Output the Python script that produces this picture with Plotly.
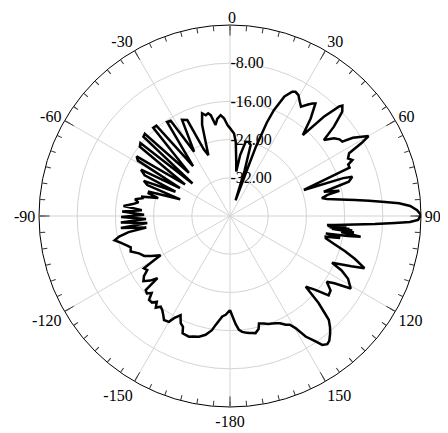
import plotly.graph_objects as go

# Radiation pattern (angle in degrees, gain in dB)
angles = [
    -180, -177.5, -175.6, -172.5, -171, -168.4, -165.6, -163, -161.2, -158, -157, -155.3, -153.5, -152,
    -151.3, -150, -147.6, -146, -144.3, -142.6, -141, -139.5, -138, -136, -134.5, -133, -131.3, -130.6,
    -129, -127, -125, -123.2, -121.3, -120.3, -119.4, -117, -115, -112.3, -109.7, -107.5, -105.5, -103.5,
    -101.9, -100.5, -99, -97.8, -96.3, -94.9, -93.4, -92.0, -90.5, -89.1, -87.6, -86.2, -84.6,
    -83, -81.5, -80, -78.5, -77.6, -76, -74.5, -73.3, -71.5, -69.5, -67.8, -66,
    -64.5, -62.5, -60.8, -59, -57.4, -55, -52.5, -50.8, -49, -47.5, -46, -43.5, -41, -39.2, -36.5, -33.8,
    -31.9, -29.2, -26.5, -24, -21.5, -19.6, -17, -15.2, -13.5, -12, -10.8, -9, -7.5, -5.3, -3.5, -1.5, 0,
    2.8, 4.5, 6.5, 8, 9.5, 11.9, 14, 16.2, 17.8, 19.5, 20.2, 20.5, 21.5, 22.5, 24.5, 26.6, 27.8, 29.5,
    31.5, 33, 35, 36.2, 37.2, 39.6, 42, 43.4, 44.9, 45.5, 47.1, 49.3, 51, 53.2, 55, 56.5, 57.5, 60, 61,
    62.2, 64, 65.4, 66.5, 68, 70.6, 71.5, 72.2, 73.9, 75.5, 77, 77.8, 79, 80.1, 81.5, 82.7, 83.7, 84.8,
    85.7, 86.8, 88.2, 89.7, 91.2, 91.9, 92.4, 93.2, 93.9, 94.9, 95.3, 95.6, 95.9, 96.2, 96.5, 96.8, 97.2,
    97.6, 98.2, 99, 99.6, 100.3, 101.3, 102.2, 103.1, 105, 107, 109, 111.2, 112.5, 114.6, 116, 118, 121,
    122.8, 124.2, 126.5, 128.8, 131, 133, 134.5, 136.4, 138, 139.5, 141.5, 142.8, 144.4, 145.7, 147.9,
    149.7, 151.2, 152.9, 155, 156.5, 158.5, 160.5, 162.5, 164.9, 165.8, 167.7, 169.5, 170.8, 172.5, 174,
    175.5, 177, 178.5, 180,
]
gain_db = [
    -20.3, -19.3, -18.9, -17.0, -15.8, -14.6, -13.9, -13.6, -13.3, -13.5, -14.8, -15.3, -16.8, -16.0,
    -15.6, -14.4, -14.2, -15.0, -15.7, -16.1, -15.3, -16.4, -15.6, -15.6, -17.0, -16.2, -16.5, -20.0,
    -18.5, -17.3, -18.0, -19.3, -18.9, -21.5, -23.3, -21.5, -20.2, -19.4, -17.9, -18.2, -17.3, -16.3,
    -15.3, -16.4, -18.5, -22.3, -17.0, -22.6, -17.1, -22.4, -17.2, -22.0, -17.4, -21.5, -17.6,
    -19.5, -20.6, -19.8, -21.3, -21.2, -24.5, -22.3, -22.3, -29.0, -21.5, -20.5, -27.5,
    -20.2, -19.0, -28.0, -17.5, -16.8, -28.5, -16.2, -15.8, -29.6, -15.4, -15.2, -27.5, -15.5, -15.6, -27.0, -16.3,
    -16.5, -24.6, -17.5, -18.0, -25.0, -26.5, -20.0, -17.7, -18.3, -18.0, -18.5, -20.7, -19.5, -18.8, -19.5, -21.0, -21.6,
    -22.7, -24.5, -28.5, -30.6, -27.0, -24.1, -24.0, -24.5, -30.0, -36.5, -30.0, -24.5, -19.0, -16.0, -12.5, -10.9, -10.6, -10.9,
    -12.0, -12.7, -11.5, -10.8, -10.4, -13.5, -17.2, -11.4, -7.6, -7.0, -7.9, -11.3, -14.7, -12.8, -12.0, -11.8, -9.5, -6.5, -8.5,
    -11.8, -12.5, -11.8, -13.0, -13.0, -23.6, -15.0, -13.1, -14.1, -19.7, -16.5, -19.1, -20.4, -19.4, -16.7, -13.6, -10.7, -7.4,
    -4.5, -2.2, -0.8, 0.0, -0.6, -2.3, -5.4, -9.6, -13.8, -17.9, -19.6, -15.5, -19.4, -14.8, -19.0, -14.2, -18.5,
    -13.8, -16.5, -12.3, -15.0, -19.6, -16.5, -19.5, -19.4, -17.5, -14.8, -12.3, -9.8, -12.5, -16.5, -14.0, -12.0, -10.5,
    -14.0, -15.5, -13.8, -13.5, -16.5, -18.3, -14.0, -10.0, -8.7, -7.7, -6.6, -6.3, -6.8, -8.2, -10.2,
    -12.8, -14.0, -14.4, -15.2, -15.5, -15.8, -16.0, -16.4, -16.7, -15.6, -14.9, -15.1, -15.2, -15.4, -15.6,
    -16.1, -17.3, -18.9, -20.3,
]

radial_ticks = [-32, -24, -16, -8]
radial_labels = ["-32.00", "-24.00", "-16.00", "-8.00"]
spoke_angles = [0, 30, 60, 90, 120, 150, 180, 210, 240, 270, 300, 330]
tick_angles = list(range(0, 360, 5))
# label text for each major angular tick (shown as -180..150); "0" is placed as an annotation
major_labels = {30: "30", 60: "60", 90: "90", 120: "120", 150: "150", 180: "-180",
                210: "-150", 240: "-120", 270: "-90", 300: "-60", 330: "-30"}
top_label = "0"

R_MIN, R_MAX = -40, 0
FONT = "Liberation Serif, Times New Roman, serif"

fig = go.Figure()

# angular grid spokes
for a in spoke_angles:
    fig.add_trace(go.Scatterpolar(r=[R_MIN, R_MAX], theta=[a, a], mode="lines",
                                  line=dict(color="#d4d4d4", width=1),
                                  hoverinfo="skip", showlegend=False))
# major ticks (longer)
for a in spoke_angles:
    fig.add_trace(go.Scatterpolar(r=[-2.2, R_MAX], theta=[a, a], mode="lines",
                                  line=dict(color="#333333", width=1),
                                  hoverinfo="skip", showlegend=False))

fig.add_trace(go.Scatterpolar(r=gain_db, theta=angles, mode="lines",
                              line=dict(color="black", width=2.5),
                              showlegend=False))

ticktext = [major_labels.get(a, "") for a in tick_angles]

fig.add_annotation(text=top_label, xref="paper", yref="paper", x=0.5053, y=1.019,
                   xanchor="center", yanchor="middle", showarrow=False,
                   font=dict(family=FONT, size=16, color="black"))

fig.update_layout(
    width=448, height=433,
    margin=dict(l=31, r=35, t=17, b=34),
    paper_bgcolor="white",
    font=dict(family=FONT, size=16, color="black"),
    polar=dict(
        bgcolor="white",
        radialaxis=dict(range=[R_MIN, R_MAX], tickvals=radial_ticks, ticktext=radial_labels,
                        angle=90, tickangle=90, showline=False, ticks="",
                        gridcolor="#d4d4d4", gridwidth=1, layer="below traces",
                        tickfont=dict(family=FONT, size=16, color="black")),
        angularaxis=dict(rotation=90, direction="clockwise", tickmode="array",
                         tickvals=tick_angles, ticktext=ticktext, ticks="inside", ticklen=5,
                         tickcolor="#333333", showgrid=False, showline=True,
                         linecolor="black", linewidth=1, layer="below traces",
                         tickfont=dict(family=FONT, size=16, color="black")),
    ),
)

fig.write_html("out.html")
